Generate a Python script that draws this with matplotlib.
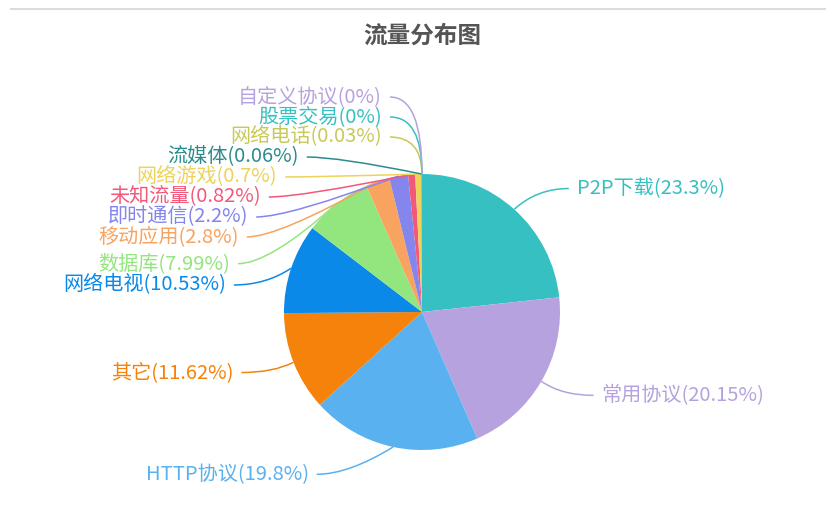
import math
import matplotlib
matplotlib.use('Agg')
import matplotlib.pyplot as plt
from matplotlib.path import Path
from matplotlib.patches import PathPatch
from matplotlib.lines import Line2D

plt.rcParams['font.family'] = ['Noto Sans CJK SC', 'DejaVu Sans']

# 데이터
categories = ['P2P下载', '常用协议', 'HTTP协议', '其它', '网络电视', '数据库', '移动应用',
              '即时通信', '未知流量', '网络游戏', '流媒体', '网络电话', '股票交易', '自定义协议']
shares = [23.3, 20.15, 19.8, 11.62, 10.53, 7.99, 2.8, 2.2, 0.82, 0.7, 0.06, 0.03, 0, 0]
palette = ['#37c0c2', '#b6a2de', '#5ab1ef', '#f5820b', '#0a89e8', '#93e57d',
           '#f8a35f', '#8585ee', '#f2587a', '#eed35a', '#2a8c8c', '#c9c95a']
title = '流量分布图'

# 레이아웃 (픽셀 단위, y는 아래로)
W, H = 826, 511
CX, CY = 422, 312
R = 138
LEN1 = 28
LEN2 = 32
GAP = 8
LABEL_H = 20

colors = [palette[i % len(palette)] for i in range(len(shares))]


def build_labels():
    total = sum(shares)
    items = []
    acc = 0.0
    for i, v in enumerate(shares):
        mid = (acc + v / 2) / total
        acc += v
        ang = -math.pi / 2 + mid * 2 * math.pi
        dx, dy = math.cos(ang), math.sin(ang)
        x1, y1 = CX + R * dx, CY + R * dy
        x2, y2 = x1 + LEN1 * dx, y1 + LEN1 * dy
        side = -1 if dx < 0 else 1
        x3 = x2 + side * LEN2
        items.append({'i': i, 'side': side, 'x': x3 + side * GAP, 'y': y2, 'p0': (x1, y1)})
    return items


def adjust_side(items):
    # 겹침 방지 (echarts 방식과 비슷하게)
    items.sort(key=lambda d: (d['y'], -d['i']))
    n = len(items)

    def shift_up(end, delta):
        for j in range(end, -1, -1):
            items[j]['y'] -= delta
            if j > 0 and items[j]['y'] > items[j - 1]['y'] + LABEL_H:
                break

    def shift_down(start, end, delta):
        for j in range(start, end):
            items[j]['y'] += delta
            if j > start and j + 1 < end and items[j + 1]['y'] > items[j]['y'] + LABEL_H:
                shift_up(j, delta / 2)
                return
        shift_up(end - 1, delta / 2)

    last = 0
    for k in range(n):
        delta = items[k]['y'] - last
        if delta < 0:
            shift_down(k, n, -delta)
        last = items[k]['y'] + LABEL_H

    for d in items:
        ddy = abs(d['y'] - CY)
        if ddy < R + LEN1:
            ddx = math.sqrt((R + LEN1 + LEN2) ** 2 - ddy ** 2)
        else:
            ddx = abs(d['x'] - CX)
        d['x'] = CX + d['side'] * ddx


labels = build_labels()
adjust_side([d for d in labels if d['side'] < 0])
adjust_side([d for d in labels if d['side'] > 0])

fig = plt.figure(figsize=(W / 100, H / 100), dpi=100)
ax = fig.add_axes([0, 0, 1, 1])

ax.pie(shares, colors=colors, startangle=90, counterclock=False,
       center=(CX, H - CY), radius=R, wedgeprops=dict(linewidth=0))
ax.set_xlim(0, W)
ax.set_ylim(0, H)
ax.set_aspect('equal')
ax.axis('off')

for d in labels:
    i = d['i']
    side = d['side']
    p0 = d['p0']
    p2 = (d['x'] - side * GAP, d['y'])
    p1 = (p2[0] - side * LEN2, d['y'])
    verts = [(p0[0], H - p0[1]), (p1[0], H - p1[1]), (p2[0], H - p2[1])]
    path = Path(verts, [Path.MOVETO, Path.CURVE3, Path.CURVE3])
    ax.add_patch(PathPatch(path, facecolor='none', edgecolor=colors[i], linewidth=1.1))
    ax.text(d['x'], H - d['y'], f'{categories[i]}({shares[i]:g}%)', color=colors[i],
            fontsize=14.5, ha='right' if side < 0 else 'left', va='center')

ax.text(CX, H - 36, title, fontsize=17, fontweight='bold', color='#555555',
        ha='center', va='center')

fig.add_artist(Line2D([11 / W, 1], [1 - 9.5 / H, 1 - 9.5 / H], color='#dcdcdc', linewidth=1.5))

fig.savefig('out.png', dpi=100)
